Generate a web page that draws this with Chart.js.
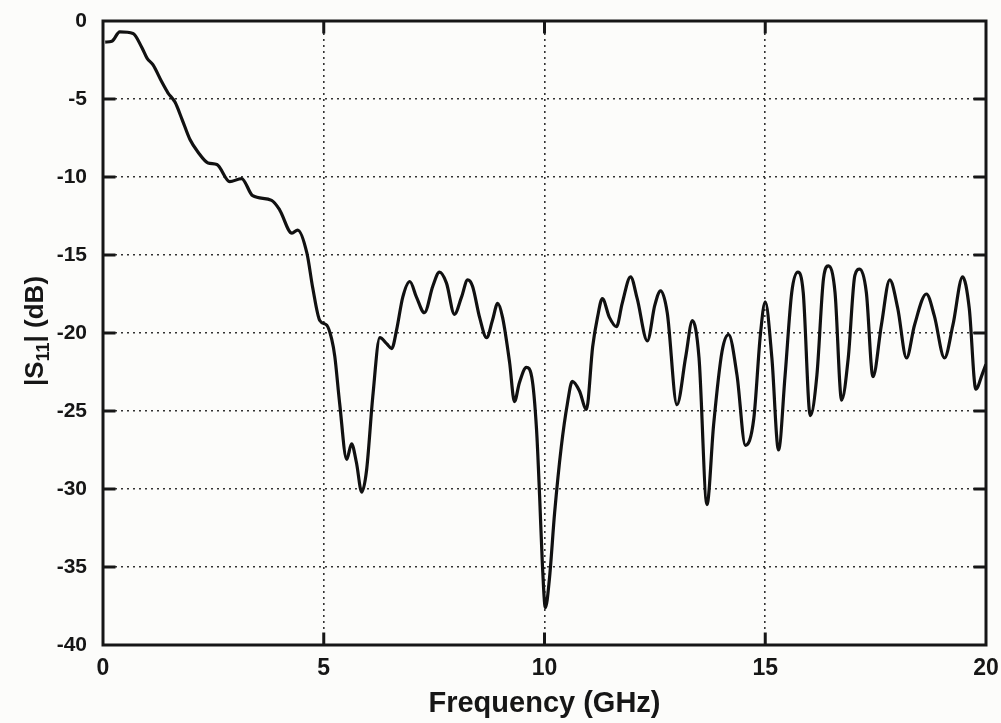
<!DOCTYPE html>
<html>
<head>
<meta charset="utf-8">
<title>|S11| vs Frequency</title>
<script src="https://cdn.jsdelivr.net/npm/chart.js@4/dist/chart.umd.min.js"></script>
<style>
	html, body { margin: 0; padding: 0; background: #fcfcfa; }
	canvas { display: block; }
</style>
</head>
<body>
<canvas id="s11-chart" width="1001" height="723"></canvas>
<script>
"use strict";

// measured return loss |S11| in dB over frequency in GHz
var freqGHz = [
	0.05, 0.2, 0.38, 0.68, 0.88, 1.0, 1.13, 1.33, 1.47, 1.63, 1.79, 1.97, 2.15, 2.38, 2.58, 2.87,
	3.14, 3.39, 3.82, 4.0, 4.28, 4.41, 4.62, 4.75, 4.91, 5.07, 5.18, 5.25, 5.36, 5.52, 5.63, 5.74,
	5.86, 5.97, 6.11, 6.27, 6.43, 6.54, 6.65, 6.79, 6.95, 7.1, 7.28, 7.47, 7.62, 7.78, 7.96, 8.12,
	8.26, 8.37, 8.53, 8.69, 8.82, 8.94, 9.05, 9.21, 9.32, 9.43, 9.59, 9.71, 9.82, 9.89, 9.95, 10.02,
	10.11, 10.23, 10.38, 10.52, 10.63, 10.79, 10.95, 11.09, 11.2, 11.31, 11.47, 11.63, 11.76, 11.95,
	12.1, 12.33, 12.5, 12.63, 12.78, 13.0, 13.2, 13.35, 13.5, 13.68, 13.83, 14.02, 14.17, 14.36,
	14.55, 14.74, 14.89, 15.0, 15.15, 15.3, 15.45, 15.6, 15.74, 15.86, 16.02, 16.17, 16.32, 16.43,
	16.58, 16.73, 16.88, 17.03, 17.14, 17.29, 17.44, 17.63, 17.82, 18.0, 18.2, 18.38, 18.65, 18.83,
	19.06, 19.25, 19.47, 19.62, 19.77, 19.92, 20.0
];
var s11dB = [
	-1.35, -1.3, -0.7, -0.8, -1.7, -2.4, -2.8, -3.9, -4.6, -5.2, -6.3, -7.6, -8.4, -9.1, -9.2, -10.3,
	-10.1, -11.2, -11.5, -12.1, -13.6, -13.4, -14.9, -17.1, -19.2, -19.5, -20.4, -21.5, -24.5, -28.1, -27.1, -28.3,
	-30.2, -28.8, -24.1, -20.3, -20.7, -21.0, -19.8, -17.7, -16.7, -17.7, -18.7, -17.0, -16.1, -16.8, -18.8, -17.7,
	-16.6, -17.0, -19.0, -20.3, -19.2, -18.1, -19.0, -21.9, -24.4, -23.2, -22.2, -22.8, -26.2, -30.5, -34.7, -37.6,
	-35.8, -31.5, -27.3, -24.5, -23.1, -23.7, -24.9, -20.9, -19.0, -17.8, -19.0, -19.6, -18.1, -16.4,
	-17.8, -20.5, -18.2, -17.3, -18.7, -24.6, -21.5, -19.2, -21.6, -31.0, -25.9, -21.2, -20.1, -22.7,
	-27.2, -25.5, -20.1, -18.0, -21.6, -27.5, -22.7, -17.4, -16.1, -17.4, -25.3, -22.7, -16.5, -15.7,
	-17.4, -24.3, -21.6, -16.3, -15.9, -17.4, -22.8, -19.5, -16.6, -18.4, -21.6, -19.5, -17.5, -18.9,
	-21.6, -19.5, -16.4, -18.4, -23.6, -22.6, -22.0
];

var xTicks = [0, 5, 10, 15, 20];
var yTicks = [0, -5, -10, -15, -20, -25, -30, -35, -40];

var xTitle = "Frequency (GHz)";
var yTitleParts = ["|S", "11", "| (dB)"];   // main, subscript, rest

var labelFont = "'Liberation Sans', Arial, sans-serif";
var ink = "#161616";

// hide the grid lines that sit on the frame
function innerGrid(ctx) {
	var v = ctx.tick ? ctx.tick.value : null;
	var s = ctx.scale;
	if (v === s.min || v === s.max) {
		return "rgba(0,0,0,0)";
	}
	return "#333333";
}

// tick labels are placed from the scales so the end labels may hang over the frame
var tickLabels = {
	id: "tickLabels",
	afterDraw: function(chart) {
		var c = chart.ctx, a = chart.chartArea;
		var xs = chart.scales.x, ys = chart.scales.y;
		c.save();
		c.fillStyle = ink;
		c.font = "bold 23px " + labelFont;
		c.textAlign = "center";
		c.textBaseline = "top";
		xTicks.forEach(function(v) {
			c.fillText(String(v), xs.getPixelForValue(v), a.bottom + 12);
		});
		c.font = "bold 21px " + labelFont;
		c.textAlign = "right";
		c.textBaseline = "middle";
		yTicks.forEach(function(v) {
			c.fillText(String(v), a.left - 16, ys.getPixelForValue(v));
		});
		c.restore();
	}
};

// solid box frame plus inward tick marks (matlab style)
var frameTicks = {
	id: "frameTicks",
	afterDraw: function(chart) {
		var c = chart.ctx, a = chart.chartArea;
		var xs = chart.scales.x, ys = chart.scales.y;
		var len = 11;
		c.save();
		c.setLineDash([]);
		c.strokeStyle = ink;
		c.lineWidth = 3;
		c.lineCap = "square";
		c.beginPath();
		c.moveTo(a.left, a.top); c.lineTo(a.right, a.top);
		c.lineTo(a.right, a.bottom); c.lineTo(a.left, a.bottom);
		c.lineTo(a.left, a.top);
		xTicks.forEach(function(v) {
			if (v === xs.min || v === xs.max) return;
			var px = xs.getPixelForValue(v);
			c.moveTo(px, a.bottom); c.lineTo(px, a.bottom - len);
			c.moveTo(px, a.top); c.lineTo(px, a.top + len);
		});
		yTicks.forEach(function(v) {
			if (v === ys.min || v === ys.max) return;
			var py = ys.getPixelForValue(v);
			c.moveTo(a.left, py); c.lineTo(a.left + len, py);
			c.moveTo(a.right, py); c.lineTo(a.right - len, py);
		});
		c.stroke();
		c.restore();
	}
};

// rotated y axis title with subscript "11"
var yTitle = {
	id: "yTitle",
	afterDraw: function(chart) {
		var c = chart.ctx;
		var big = "bold 26px " + labelFont;
		var small = "bold 18px " + labelFont;
		c.save();
		c.fillStyle = ink;
		c.textBaseline = "alphabetic";
		c.font = big;
		var w0 = c.measureText(yTitleParts[0]).width;
		var w2 = c.measureText(yTitleParts[2]).width;
		c.font = small;
		var w1 = c.measureText(yTitleParts[1]).width;
		var total = w0 + w1 + w2;
		c.translate(43, 331);
		c.rotate(-Math.PI / 2);
		var x = -total / 2;
		c.font = big;
		c.fillText(yTitleParts[0], x, 0);
		x += w0;
		c.font = small;
		c.fillText(yTitleParts[1], x, 6);
		x += w1;
		c.font = big;
		c.fillText(yTitleParts[2], x, 0);
		c.restore();
	}
};

initChart();

function initChart() {
	var points = freqGHz.map(function(f, i) {
		return { x: f, y: s11dB[i] };
	});

	var ctx = document.getElementById("s11-chart").getContext("2d");
	new Chart(ctx, {
		type: "line",
		data: {
			datasets: [{
				label: "|S11|",
				data: points,
				borderColor: "#111111",
				borderWidth: 3.2,
				pointRadius: 0,
				fill: false,
				cubicInterpolationMode: "monotone"
			}]
		},
		options: {
			responsive: false,
			animation: false,
			layout: { padding: { left: 0, right: 15, top: 21, bottom: 0 } },
			plugins: {
				legend: { display: false },
				tooltip: { enabled: false }
			},
			scales: {
				x: {
					type: "linear",
					min: 0,
					max: 20,
					afterFit: function(s) { s.height = 78; },
					afterBuildTicks: function(s) {
						s.ticks = xTicks.map(function(v) { return { value: v }; });
					},
					border: { display: false, dash: [2, 4] },
					grid: {
						color: innerGrid,
						lineWidth: 1.6,
						drawTicks: false
					},
					ticks: { display: false },
					title: {
						display: true,
						text: xTitle,
						color: ink,
						padding: { top: 0, bottom: 2 },
						font: { family: labelFont, size: 29, weight: "bold" }
					}
				},
				y: {
					type: "linear",
					min: -40,
					max: 0,
					afterFit: function(s) { s.width = 103; },
					afterBuildTicks: function(s) {
						s.ticks = yTicks.map(function(v) { return { value: v }; });
					},
					border: { display: false, dash: [2, 4] },
					grid: {
						color: innerGrid,
						lineWidth: 1.6,
						drawTicks: false
					},
					ticks: { display: false }
				}
			}
		},
		plugins: [tickLabels, frameTicks, yTitle]
	});
}
</script>
</body>
</html>
